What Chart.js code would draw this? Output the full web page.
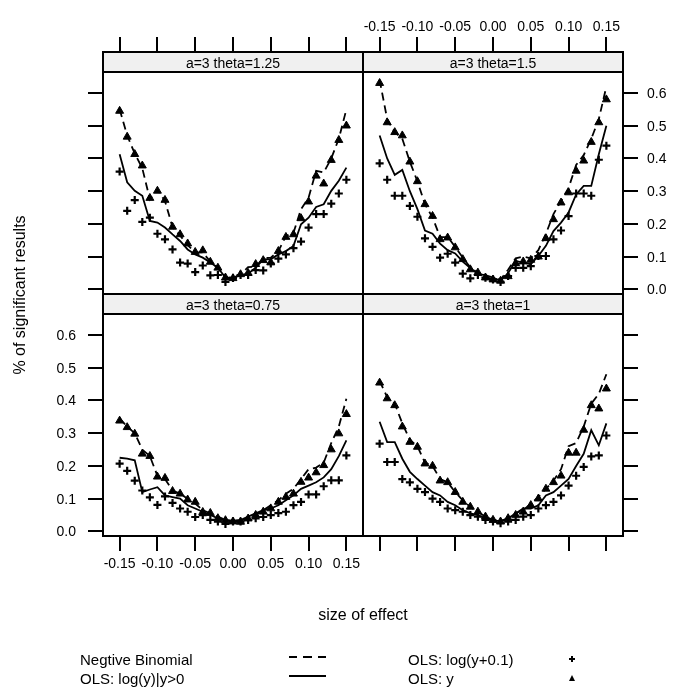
<!DOCTYPE html>
<html><head><meta charset="utf-8">
<script src="https://cdn.jsdelivr.net/npm/chart.js@4"></script>
<style>
html,body{margin:0;padding:0;background:#fff;}
#wrap{position:relative;width:677px;height:688px;overflow:hidden;font-family:"Liberation Sans",Arial,Helvetica,sans-serif;color:#000;}
canvas{position:absolute;left:0;top:0;}
.t{position:absolute;white-space:nowrap;font-size:14px;line-height:16px;color:#000;}
</style></head><body>
<div id="wrap"></div>
<script>
// ---------- data ----------
const effect = [-0.15,-0.14,-0.13,-0.12,-0.11,-0.10,-0.09,-0.08,-0.07,-0.06,-0.05,-0.04,-0.03,-0.02,-0.01,0.00,0.01,0.02,0.03,0.04,0.05,0.06,0.07,0.08,0.09,0.10,0.11,0.12,0.13,0.14,0.15];

const xTickValues = [-0.15,-0.10,-0.05,0.00,0.05,0.10,0.15];
const xTickLabels = ["-0.15","-0.10","-0.05","0.00","0.05","0.10","0.15"];
const yTickValues = [0.0,0.1,0.2,0.3,0.4,0.5,0.6];
const yTickLabels = ["0.0","0.1","0.2","0.3","0.4","0.5","0.6"];

const seriesNames = ["Negtive Binomial","OLS: log(y)|y>0","OLS: log(y+0.1)","OLS: y"];

// theta = 1.25
const nb_125     = [0.55,0.47,0.415,0.37,0.275,0.305,0.27,0.19,0.165,0.135,0.113,0.113,0.085,0.065,0.036,0.034,0.045,0.068,0.07,0.095,0.097,0.117,0.163,0.173,0.245,0.28,0.362,0.357,0.40,0.46,0.55];
const logpos_125 = [0.413,0.327,0.301,0.286,0.209,0.204,0.189,0.168,0.148,0.122,0.107,0.097,0.082,0.066,0.036,0.036,0.044,0.048,0.066,0.092,0.092,0.107,0.117,0.133,0.199,0.219,0.252,0.26,0.301,0.332,0.372];
const logp01_125 = [0.36,0.24,0.273,0.206,0.219,0.17,0.153,0.122,0.082,0.079,0.053,0.073,0.043,0.044,0.023,0.035,0.044,0.044,0.059,0.058,0.079,0.094,0.107,0.126,0.146,0.189,0.23,0.23,0.262,0.293,0.335];
const ols_125    = [0.545,0.466,0.413,0.378,0.279,0.301,0.273,0.191,0.168,0.14,0.114,0.119,0.084,0.066,0.036,0.034,0.046,0.05,0.077,0.089,0.082,0.117,0.16,0.168,0.217,0.268,0.347,0.323,0.395,0.456,0.50];

// theta = 1.5
const nb_15      = [0.64,0.52,0.48,0.46,0.39,0.33,0.26,0.22,0.16,0.16,0.13,0.097,0.067,0.05,0.036,0.033,0.03,0.06,0.095,0.10,0.095,0.12,0.17,0.23,0.27,0.31,0.38,0.41,0.46,0.52,0.62];
const logpos_15  = [0.47,0.40,0.35,0.365,0.30,0.245,0.18,0.17,0.14,0.12,0.11,0.085,0.065,0.047,0.044,0.036,0.026,0.05,0.087,0.082,0.077,0.102,0.133,0.178,0.204,0.235,0.29,0.316,0.316,0.413,0.50];
const logp01_15  = [0.385,0.335,0.286,0.286,0.255,0.222,0.156,0.13,0.097,0.109,0.082,0.048,0.034,0.044,0.036,0.03,0.023,0.041,0.066,0.066,0.071,0.102,0.102,0.153,0.18,0.224,0.293,0.293,0.286,0.396,0.439];
const ols_15     = [0.63,0.51,0.48,0.47,0.39,0.33,0.26,0.224,0.153,0.158,0.128,0.092,0.061,0.051,0.036,0.03,0.026,0.04,0.08,0.085,0.09,0.10,0.156,0.214,0.265,0.296,0.362,0.393,0.45,0.51,0.58];

// theta = 0.75
const nb_075     = [0.345,0.32,0.30,0.25,0.23,0.17,0.16,0.125,0.115,0.10,0.085,0.065,0.055,0.045,0.035,0.03,0.032,0.04,0.05,0.065,0.08,0.095,0.115,0.13,0.16,0.19,0.195,0.21,0.27,0.32,0.405];
const logpos_075 = [0.225,0.222,0.217,0.12,0.128,0.135,0.11,0.105,0.10,0.08,0.07,0.06,0.05,0.04,0.035,0.033,0.035,0.045,0.055,0.065,0.07,0.08,0.095,0.11,0.13,0.14,0.15,0.165,0.19,0.23,0.278];
const logp01_075 = [0.207,0.185,0.155,0.125,0.104,0.081,0.107,0.087,0.07,0.06,0.044,0.05,0.035,0.03,0.023,0.03,0.03,0.035,0.04,0.044,0.05,0.056,0.06,0.08,0.09,0.113,0.113,0.138,0.156,0.156,0.232];
const ols_075    = [0.338,0.318,0.298,0.237,0.23,0.167,0.163,0.123,0.115,0.097,0.09,0.059,0.056,0.04,0.034,0.03,0.029,0.039,0.05,0.06,0.07,0.09,0.105,0.115,0.151,0.164,0.18,0.202,0.25,0.299,0.358];

// theta = 1
const nb_1       = [0.46,0.41,0.39,0.33,0.28,0.26,0.21,0.20,0.16,0.15,0.12,0.095,0.075,0.06,0.045,0.035,0.032,0.04,0.055,0.065,0.085,0.105,0.13,0.155,0.19,0.26,0.27,0.32,0.39,0.42,0.48];
const logpos_1   = [0.335,0.273,0.273,0.222,0.182,0.16,0.14,0.12,0.11,0.09,0.08,0.065,0.055,0.05,0.04,0.035,0.03,0.04,0.055,0.07,0.07,0.08,0.11,0.12,0.14,0.16,0.20,0.237,0.309,0.263,0.33];
const logp01_1   = [0.268,0.212,0.212,0.16,0.15,0.13,0.12,0.10,0.09,0.07,0.065,0.06,0.05,0.045,0.035,0.03,0.025,0.03,0.035,0.045,0.05,0.07,0.08,0.09,0.11,0.14,0.17,0.197,0.229,0.232,0.293];
const ols_1      = [0.454,0.406,0.385,0.32,0.273,0.258,0.207,0.20,0.155,0.15,0.12,0.09,0.075,0.06,0.045,0.035,0.03,0.04,0.05,0.06,0.08,0.10,0.13,0.15,0.17,0.24,0.24,0.31,0.385,0.375,0.436];

// ---------- layout ----------
const W = 677, H = 688;
const colLeft = [103, 363], colW = 260;
const rowTop = [72, 314], plotH = 222, stripH = 20, tickLen = 15;
const xMin = -0.172, xMax = 0.172, yMin = -0.014, yMax = 0.664;

const panels = [
  {strip: "a=3 theta=1.25", col: 0, row: 0, s: [nb_125, logpos_125, logp01_125, ols_125]},
  {strip: "a=3 theta=1.5",  col: 1, row: 0, s: [nb_15, logpos_15, logp01_15, ols_15]},
  {strip: "a=3 theta=0.75", col: 0, row: 1, s: [nb_075, logpos_075, logp01_075, ols_075]},
  {strip: "a=3 theta=1",    col: 1, row: 1, s: [nb_1, logpos_1, logp01_1, ols_1]}
];

const wrap = document.getElementById('wrap');
function addText(txt, css) {
  const d = document.createElement('div');
  d.className = 't';
  d.textContent = txt;
  Object.assign(d.style, css);
  wrap.appendChild(d);
  return d;
}

const framePlugin = {
  id: 'frame',
  afterDraw(chart) {
    const p = chart.options.plugins.frame;
    const ctx = chart.ctx, a = chart.chartArea;
    const xs = chart.scales.x, ys = chart.scales.y;
    ctx.save();
    ctx.fillStyle = '#f0f0f0';
    ctx.fillRect(a.left, a.top - stripH, a.right - a.left, stripH);
    ctx.strokeStyle = '#000';
    ctx.lineWidth = 2;
    ctx.strokeRect(a.left, a.top - stripH, a.right - a.left, stripH);
    ctx.strokeRect(a.left, a.top, a.right - a.left, a.bottom - a.top);
    ctx.beginPath();
    xTickValues.forEach(v => {
      const px = Math.round(xs.getPixelForValue(v));
      if (p.row === 0) { ctx.moveTo(px, a.top - stripH - tickLen); ctx.lineTo(px, a.top - stripH); }
      else { ctx.moveTo(px, a.bottom); ctx.lineTo(px, a.bottom + tickLen); }
    });
    yTickValues.forEach(v => {
      const py = Math.round(ys.getPixelForValue(v));
      if (p.col === 0) { ctx.moveTo(a.left - tickLen, py); ctx.lineTo(a.left, py); }
      else { ctx.moveTo(a.right, py); ctx.lineTo(a.right + tickLen, py); }
    });
    ctx.stroke();
    ctx.restore();
  }
};

panels.forEach((p, k) => {
  const cv = document.createElement('canvas');
  cv.width = W; cv.height = H;
  cv.style.width = W + 'px'; cv.style.height = H + 'px';
  wrap.appendChild(cv);
  const left = colLeft[p.col], top = rowTop[p.row];
  const pts = arr => effect.map((x, i) => ({x: x, y: arr[i]}));
  const chart = new Chart(cv, {
    type: 'scatter',
    data: {
      datasets: [
        {label: seriesNames[0], data: pts(p.s[0]), showLine: true, borderColor: '#000', borderWidth: 1.8, borderDash: [8, 5], pointRadius: 0, fill: false, tension: 0},
        {label: seriesNames[1], data: pts(p.s[1]), showLine: true, borderColor: '#000', borderWidth: 1.8, pointRadius: 0, fill: false, tension: 0},
        {label: seriesNames[2], data: pts(p.s[2]), showLine: false, pointStyle: 'cross', pointRadius: 4, borderColor: '#000', borderWidth: 2.2},
        {label: seriesNames[3], data: pts(p.s[3]), showLine: false, pointStyle: 'triangle', pointRadius: 4.6, backgroundColor: '#000', borderColor: '#000', borderWidth: 1}
      ]
    },
    options: {
      responsive: false, animation: false, events: [],
      layout: {padding: {left: left, right: W - left - colW, top: top, bottom: H - top - plotH}},
      scales: {
        x: {type: 'linear', min: xMin, max: xMax, display: false},
        y: {type: 'linear', min: yMin, max: yMax, display: false}
      },
      plugins: {legend: {display: false}, tooltip: {enabled: false}, frame: {row: p.row, col: p.col}}
    },
    plugins: [framePlugin]
  });
  const a = chart.chartArea, xs = chart.scales.x, ys = chart.scales.y;
  // strip label
  addText(p.strip, {left: a.left + 'px', width: (a.right - a.left) + 'px', top: (a.top - stripH + 3) + 'px', textAlign: 'center'});
  // tick labels (alternating as in lattice)
  if (p.row === 0 && p.col === 1) {
    xTickValues.forEach((v, i) => addText(xTickLabels[i], {left: (xs.getPixelForValue(v) - 25) + 'px', width: '50px', textAlign: 'center', top: (a.top - stripH - tickLen - 19) + 'px'}));
  }
  if (p.row === 1 && p.col === 0) {
    xTickValues.forEach((v, i) => addText(xTickLabels[i], {left: (xs.getPixelForValue(v) - 25) + 'px', width: '50px', textAlign: 'center', top: (a.bottom + tickLen + 4) + 'px'}));
  }
  if (p.col === 0 && p.row === 1) {
    yTickValues.forEach((v, i) => addText(yTickLabels[i], {left: '36px', width: '40px', textAlign: 'right', top: (ys.getPixelForValue(v) - 8) + 'px'}));
  }
  if (p.col === 1 && p.row === 0) {
    yTickValues.forEach((v, i) => addText(yTickLabels[i], {left: (a.right + tickLen + 9) + 'px', top: (ys.getPixelForValue(v) - 8) + 'px'}));
  }
});

// axis titles
addText("% of significant results", {left: '-80px', top: '286px', width: '200px', height: '18px', lineHeight: '18px', fontSize: '16px', textAlign: 'center', transform: 'rotate(-90deg)'});
addText("size of effect", {left: '103px', top: '606px', fontSize: '16px', lineHeight: '18px', width: '520px', textAlign: 'center'});

// legend
const lg = {fontSize: '15px', lineHeight: '17px'};
addText(seriesNames[0], Object.assign({left: '80px', top: '651px'}, lg));
addText(seriesNames[1], Object.assign({left: '80px', top: '670px'}, lg));
addText(seriesNames[2], Object.assign({left: '408px', top: '651px'}, lg));
addText(seriesNames[3], Object.assign({left: '408px', top: '670px'}, lg));
function box(css) { const d = document.createElement('div'); d.style.position = 'absolute'; Object.assign(d.style, css); wrap.appendChild(d); return d; }
// dashed sample: three dashes
box({left: '289px', top: '656px', width: '8px', height: '2px', background: '#000'});
box({left: '303px', top: '656px', width: '9px', height: '2px', background: '#000'});
box({left: '318px', top: '656px', width: '8px', height: '2px', background: '#000'});
box({left: '289px', top: '675px', width: '37px', height: '2px', background: '#000'});
// plus
box({left: '569px', top: '658px', width: '6px', height: '2px', background: '#000'});
box({left: '571px', top: '656px', width: '2px', height: '6px', background: '#000'});
// triangle
box({left: '569px', top: '675px', width: '0', height: '0', borderLeft: '3px solid transparent', borderRight: '3px solid transparent', borderBottom: '6px solid #000'});
</script>
</body></html>
